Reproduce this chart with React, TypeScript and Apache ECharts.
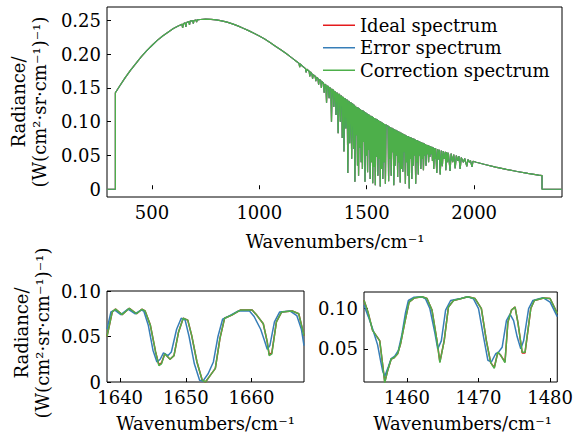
import React, { useEffect, useRef } from "react";
import * as echarts from "echarts";

// ---------------- data ----------------
const seriesNames = ["Ideal spectrum", "Error spectrum", "Correction spectrum"];
const seriesColors = ["#e41a1c", "#377eb8", "#4daf4a"];

// full-range spectrum (the three spectra coincide at this scale)
const fullSpectrum: number[][] = [
  [291, 0], [330, 0], [330, 0.143], [350, 0.153], [375, 0.165], [400, 0.176], [425, 0.186], [450, 0.196],
  [475, 0.205], [500, 0.213], [525, 0.2205], [550, 0.227], [575, 0.2325], [600, 0.238], [620, 0.2415],
  [640, 0.2445], [643, 0.239], [646, 0.245], [655, 0.2465], [658, 0.2405], [661, 0.247], [672, 0.2485],
  [675, 0.2435], [678, 0.249], [690, 0.2498], [693, 0.2455], [696, 0.25], [705, 0.2508], [708, 0.2475],
  [711, 0.251], [725, 0.2515], [750, 0.252], [775, 0.2518], [800, 0.251], [825, 0.2495], [850, 0.2475],
  [875, 0.245], [900, 0.242], [925, 0.2385], [950, 0.235], [975, 0.231], [1000, 0.227], [1025, 0.2225],
  [1050, 0.2175], [1075, 0.212], [1100, 0.2065], [1125, 0.201], [1150, 0.195], [1175, 0.189],
  [1185, 0.1865], [1188, 0.181], [1191, 0.1858], [1200, 0.1825], [1215, 0.1787], [1218, 0.173],
  [1221, 0.1778], [1232, 0.1748], [1235, 0.167], [1238, 0.174],
  [1245, 0.171], [1248, 0.164], [1251, 0.1695],
  [1260, 0.1675], [1263, 0.16], [1266, 0.166],
  [1273, 0.164], [1276, 0.155], [1279, 0.1625],
  [1286, 0.161], [1289, 0.15], [1292, 0.1595],
  [1299, 0.157], [1302, 0.143], [1305, 0.1555],
  [1310, 0.1545], [1313, 0.128], [1316, 0.153],
  [1322, 0.152], [1325, 0.135], [1328, 0.1505],
  [1333, 0.149], [1336, 0.1], [1339, 0.148],
  [1344, 0.147], [1347, 0.122], [1350, 0.1455],
  [1354, 0.144], [1357, 0.11], [1360, 0.143],
  [1364, 0.142], [1367, 0.083], [1370, 0.141],
  [1374, 0.14], [1377, 0.1], [1380, 0.1385],
  [1384, 0.1375], [1386, 0.076], [1389, 0.1365],
  [1392, 0.1355], [1394, 0.056], [1397, 0.1345],
  [1400, 0.134], [1403, 0.09], [1406, 0.1325],
  [1409, 0.132], [1412, 0.024], [1415, 0.1305],
  [1418, 0.13], [1421, 0.068], [1424, 0.1285],
  [1427, 0.128], [1430, 0.045], [1433, 0.1265],
  [1436, 0.126], [1439, 0.06], [1442, 0.125],
  [1445, 0.011], [1448, 0.1235], [1451, 0.08],
  [1454, 0.122], [1457, 0.035], [1460, 0.121],
  [1462, 0.02], [1465, 0.12], [1468, 0.062],
  [1471, 0.1185], [1474, 0.04], [1477, 0.1175],
  [1480, 0.03], [1483, 0.1165], [1486, 0.07],
  [1489, 0.115], [1492, 0.011], [1495, 0.114],
  [1498, 0.05], [1501, 0.1125], [1504, 0.025],
  [1507, 0.1115], [1510, 0.058], [1513, 0.1105],
  [1516, 0.015], [1519, 0.109], [1522, 0.04],
  [1525, 0.108], [1528, 0.009], [1531, 0.107],
  [1534, 0.033], [1537, 0.1055], [1540, 0.006],
  [1543, 0.1045], [1546, 0.048], [1549, 0.1035],
  [1552, 0.02], [1555, 0.1025], [1558, 0.045],
  [1561, 0.101], [1563, 0.004], [1566, 0.1],
  [1569, 0.03], [1572, 0.099], [1575, 0.015],
  [1578, 0.098], [1581, 0.04], [1584, 0.0965],
  [1587, 0.008], [1590, 0.095], [1599, 0.0935],
  [1602, 0.012], [1605, 0.093], [1608, 0.045],
  [1611, 0.092], [1614, 0.02], [1617, 0.091],
  [1620, 0.055], [1623, 0.09], [1626, 0.006],
  [1629, 0.089], [1632, 0.035], [1635, 0.088],
  [1638, 0.05], [1641, 0.087], [1644, 0.018],
  [1647, 0.086], [1650, 0.04], [1653, 0.085],
  [1656, 0.01], [1659, 0.084], [1662, 0.03],
  [1665, 0.083], [1668, 0.026], [1671, 0.082],
  [1674, 0.055], [1677, 0.081], [1680, 0.008],
  [1683, 0.08], [1686, 0.04], [1689, 0.079],
  [1692, 0.02], [1695, 0.0785], [1698, 0.001],
  [1701, 0.0775], [1704, 0.045], [1707, 0.0765],
  [1710, 0.015], [1713, 0.0755], [1716, 0.035],
  [1719, 0.075], [1722, 0.05], [1725, 0.074],
  [1728, 0.008], [1731, 0.073], [1734, 0.04],
  [1737, 0.0725], [1740, 0.022], [1743, 0.0715],
  [1746, 0.05], [1749, 0.0705], [1752, 0.03],
  [1755, 0.0695], [1758, 0.045], [1761, 0.069],
  [1764, 0.028], [1767, 0.068], [1770, 0.05],
  [1773, 0.067], [1776, 0.035], [1779, 0.066],
  [1782, 0.052], [1785, 0.0655], [1788, 0.04],
  [1791, 0.0645], [1794, 0.048], [1797, 0.0635],
  [1800, 0.052], [1803, 0.063], [1806, 0.042],
  [1809, 0.062], [1812, 0.03], [1815, 0.061],
  [1818, 0.045], [1821, 0.0605], [1826, 0.024],
  [1830, 0.0595], [1834, 0.044], [1838, 0.0585],
  [1842, 0.022], [1847, 0.0575], [1852, 0.034],
  [1856, 0.0565], [1861, 0.045], [1866, 0.0555],
  [1868, 0.028], [1872, 0.055], [1876, 0.04],
  [1880, 0.054], [1888, 0.027], [1893, 0.0528],
  [1900, 0.04], [1905, 0.0515], [1912, 0.031],
  [1917, 0.05], [1924, 0.042], [1929, 0.049],
  [1935, 0.03], [1940, 0.047], [1950, 0.04],
  [1956, 0.0455], [1966, 0.034], [1971, 0.044],
  [1978, 0.04], [1983, 0.0425], [1990, 0.033],
  [1995, 0.0415], [2010, 0.04], [2050, 0.0366], [2100, 0.0328], [2150, 0.0294],
  [2200, 0.0263], [2250, 0.0234], [2300, 0.0209], [2316, 0.0202], [2316, 0], [2409, 0],
];

// zoom 1638-1668 cm^-1
const zoomAIdeal: number[][] = [
  [1638, 0.05], [1638.8, 0.077], [1639.3, 0.08], [1640.3, 0.074], [1641.4, 0.081], [1642.5, 0.075],
  [1643.3, 0.08], [1643.8, 0.078], [1644.6, 0.0625], [1645.4, 0.033], [1645.9, 0.019], [1646.3, 0.021],
  [1646.8, 0.031], [1647.6, 0.025], [1648.2, 0.029], [1648.9, 0.055], [1649.6, 0.07], [1650.3, 0.068],
  [1650.9, 0.051], [1651.7, 0.022], [1652.5, 0.002], [1653.0, 0.0], [1653.7, 0.007], [1654.5, 0.015],
  [1655.2, 0.048], [1655.9, 0.07], [1657.0, 0.0735], [1658.3, 0.079], [1660.1, 0.079], [1660.8, 0.0735],
  [1661.8, 0.064], [1662.4, 0.044], [1662.7, 0.03], [1663.1, 0.032], [1663.8, 0.066], [1664.6, 0.077],
  [1666.2, 0.078], [1667.2, 0.075], [1668, 0.051],
];
const zoomAError: number[][] = [
  [1638, 0.058], [1638.6, 0.077], [1639.2, 0.079], [1640.1, 0.074], [1641.2, 0.08], [1642.3, 0.075],
  [1643.2, 0.079], [1643.6, 0.078], [1644.3, 0.062], [1645.0, 0.035], [1645.6, 0.022], [1646.1, 0.025],
  [1646.6, 0.032], [1647.3, 0.029], [1647.8, 0.033], [1648.6, 0.058], [1649.3, 0.07], [1649.9, 0.068],
  [1650.5, 0.05], [1651.3, 0.02], [1652.1, 0.002], [1652.6, 0.001], [1653.4, 0.009], [1654.2, 0.022],
  [1654.9, 0.05], [1655.6, 0.069], [1656.7, 0.073], [1658.0, 0.078], [1659.7, 0.078], [1660.4, 0.072],
  [1661.4, 0.058], [1662.0, 0.045], [1662.4, 0.036], [1662.8, 0.04], [1663.5, 0.066], [1664.3, 0.077],
  [1665.9, 0.078], [1666.9, 0.073], [1667.6, 0.058], [1668, 0.04],
];
const zoomACorrection: number[][] = [
  [1638, 0.05], [1638.8, 0.077], [1639.3, 0.08], [1640.3, 0.074], [1641.4, 0.081], [1642.5, 0.075],
  [1643.3, 0.08], [1643.8, 0.078], [1644.6, 0.0625], [1645.4, 0.033], [1645.9, 0.018], [1646.3, 0.02],
  [1646.8, 0.031], [1647.6, 0.025], [1648.2, 0.029], [1648.9, 0.055], [1649.6, 0.07], [1650.3, 0.068],
  [1650.9, 0.051], [1651.7, 0.022], [1652.5, 0.002], [1653.0, 0.0], [1653.7, 0.007], [1654.5, 0.015],
  [1655.2, 0.048], [1655.9, 0.07], [1657.0, 0.0735], [1658.3, 0.079], [1660.1, 0.079], [1660.8, 0.0735],
  [1661.8, 0.064], [1662.4, 0.044], [1662.7, 0.029], [1663.1, 0.031], [1663.8, 0.066], [1664.6, 0.077],
  [1666.2, 0.078], [1667.2, 0.075], [1668, 0.051],
];

// zoom 1454-1481 cm^-1
const zoomBIdeal: number[][] = [
  [1454, 0.1104], [1454.55, 0.0958], [1455.2, 0.073], [1455.9, 0.064], [1456.2, 0.06], [1456.6, 0.031],
  [1456.9, 0.009], [1457.3, 0.023], [1457.8, 0.0375], [1458.2, 0.039], [1458.7, 0.044], [1459.1, 0.056],
  [1459.7, 0.083], [1460.3, 0.108], [1461.0, 0.113], [1462.1, 0.1146], [1462.8, 0.1125], [1463.5, 0.098],
  [1464.2, 0.06], [1464.6, 0.034], [1465.2, 0.06], [1465.8, 0.102], [1466.5, 0.11], [1467.6, 0.1125],
  [1468.5, 0.1146], [1469.5, 0.1125], [1470.4, 0.1], [1471.1, 0.06], [1471.7, 0.033], [1472.2, 0.027],
  [1472.7, 0.046], [1473.1, 0.042], [1473.7, 0.034], [1474.1, 0.083], [1474.6, 0.098], [1475.1, 0.102],
  [1475.5, 0.083], [1476.1, 0.045], [1476.5, 0.045], [1477.3, 0.1], [1477.8, 0.11], [1479.1, 0.113],
  [1480.0, 0.1125], [1481, 0.094],
];
const zoomBError: number[][] = [
  [1454, 0.104], [1454.6, 0.09], [1455.2, 0.075], [1455.9, 0.055], [1456.3, 0.036], [1456.6, 0.023],
  [1456.9, 0.016], [1457.4, 0.028], [1457.8, 0.038], [1458.3, 0.041], [1458.8, 0.048], [1459.3, 0.068],
  [1459.8, 0.095], [1460.2, 0.11], [1461.0, 0.114], [1462.1, 0.1146], [1462.6, 0.112], [1463.2, 0.1],
  [1463.9, 0.07], [1464.3, 0.05], [1464.8, 0.06], [1465.4, 0.098], [1466.1, 0.11], [1467.5, 0.1125],
  [1468.5, 0.1146], [1469.3, 0.112], [1470.0, 0.1], [1470.7, 0.065], [1471.3, 0.036], [1471.8, 0.034],
  [1472.4, 0.044], [1472.8, 0.046], [1473.3, 0.052], [1473.9, 0.085], [1474.4, 0.093], [1474.9, 0.085],
  [1475.4, 0.065], [1475.9, 0.05], [1476.3, 0.06], [1477.0, 0.1], [1477.6, 0.11], [1479.0, 0.1135],
  [1480.0, 0.108], [1481, 0.09],
];
const zoomBCorrection: number[][] = [
  [1454, 0.1104], [1454.55, 0.0958], [1455.2, 0.073], [1455.9, 0.064], [1456.2, 0.06], [1456.6, 0.031],
  [1456.9, 0.008], [1457.3, 0.023], [1457.8, 0.0375], [1458.2, 0.039], [1458.7, 0.044], [1459.1, 0.056],
  [1459.7, 0.083], [1460.3, 0.108], [1461.0, 0.113], [1462.1, 0.1146], [1462.8, 0.1125], [1463.5, 0.098],
  [1464.2, 0.06], [1464.6, 0.033], [1465.2, 0.06], [1465.8, 0.102], [1466.5, 0.11], [1467.6, 0.1125],
  [1468.5, 0.1146], [1469.5, 0.1125], [1470.4, 0.1], [1471.1, 0.06], [1471.7, 0.033], [1472.2, 0.026],
  [1472.7, 0.046], [1473.1, 0.042], [1473.7, 0.033], [1474.1, 0.083], [1474.6, 0.098], [1475.1, 0.102],
  [1475.5, 0.083], [1476.1, 0.046], [1476.5, 0.046], [1477.3, 0.1], [1477.8, 0.11], [1479.1, 0.113],
  [1480.0, 0.1125], [1481, 0.094],
];

// ticks
const topXTicks = [500, 1000, 1500, 2000];
const topYTicks = [0, 0.05, 0.1, 0.15, 0.2, 0.25];
const zoomAXTicks = [1640, 1650, 1660];
const zoomAYTicks = [0, 0.05, 0.1];
const zoomBXTicks = [1460, 1470, 1480];
const zoomBYTicks = [0.05, 0.1];

const xTitle = "Wavenumbers/cm\u207B\u00B9";
const yTitle1 = "Radiance/";
const yTitle2 = "(W(cm\u00B2\u00B7sr\u00B7cm\u207B\u00B9)\u207B\u00B9)";

const FONT_FAMILY = '"DejaVu Serif", serif';
const FONT_SIZE = 18;

function fmtY(v: number) {
  return v === 0 ? "0" : v.toFixed(2);
}

function makeAxis(gridIndex: number, min: number, max: number, ticks: number[], isY: boolean) {
  return {
    type: "value",
    gridIndex,
    min,
    max,
    splitLine: { show: false },
    axisLine: { show: false },
    axisTick: {
      show: true,
      inside: true,
      length: 4,
      customValues: ticks,
      lineStyle: { color: "#000", width: 1 },
    },
    axisLabel: {
      customValues: ticks,
      color: "#000",
      fontFamily: FONT_FAMILY,
      fontSize: FONT_SIZE,
      margin: 6,
      formatter: isY ? (v: number) => fmtY(v) : (v: number) => String(v),
    },
  };
}

function text(x: number, y: number, str: string, rotate: boolean) {
  return {
    type: "text",
    x,
    y,
    rotation: rotate ? Math.PI / 2 : 0,
    style: {
      text: str,
      fontFamily: FONT_FAMILY,
      fontSize: FONT_SIZE,
      fill: "#000",
      textAlign: "center",
      textVerticalAlign: "middle",
      align: "center",
      verticalAlign: "middle",
    },
  };
}

export default function App() {
  const ref = useRef<HTMLDivElement>(null);

  useEffect(() => {
    if (!ref.current) return;
    const chart = echarts.init(ref.current, undefined, { renderer: "svg" });

    const datasets = [
      [fullSpectrum, fullSpectrum, fullSpectrum],
      [zoomAIdeal, zoomAError, zoomACorrection],
      [zoomBIdeal, zoomBError, zoomBCorrection],
    ];
    const series: any[] = [];
    datasets.forEach((group, gi) => {
      group.forEach((data, si) => {
        series.push({
          type: "line",
          name: seriesNames[si],
          xAxisIndex: gi,
          yAxisIndex: gi,
          data,
          showSymbol: false,
          symbol: "none",
          color: seriesColors[si],
          lineStyle: { color: seriesColors[si], width: gi === 0 ? 1.2 : 1.5 },
          emphasis: { disabled: true },
          silent: true,
        });
      });
    });

    const gridBase = { show: true, borderColor: "#000", borderWidth: 1, backgroundColor: "transparent" };

    chart.setOption({
      animation: false,
      backgroundColor: "#fff",
      grid: [
        { ...gridBase, left: 107, top: 7, width: 455, height: 190 },
        { ...gridBase, left: 107, top: 291, width: 197, height: 91 },
        { ...gridBase, left: 364, top: 292, width: 197, height: 90 },
      ],
      xAxis: [
        makeAxis(0, 291, 2409, topXTicks, false),
        makeAxis(1, 1638, 1668, zoomAXTicks, false),
        makeAxis(2, 1454, 1481, zoomBXTicks, false),
      ],
      yAxis: [
        makeAxis(0, -0.0115, 0.27, topYTicks, true),
        makeAxis(1, 0, 0.1, zoomAYTicks, true),
        makeAxis(2, 0.009, 0.1205, zoomBYTicks, true),
      ],
      legend: {
        data: seriesNames,
        orient: "vertical",
        left: 323,
        top: 14,
        padding: 0,
        itemWidth: 32,
        itemHeight: 1.5,
        itemGap: 0,
        icon: "rect",
        selectedMode: false,
        textStyle: { fontFamily: FONT_FAMILY, fontSize: FONT_SIZE, color: "#000", lineHeight: 22.5 },
      },
      graphic: [
        text(18, 102, yTitle1, true),
        text(39, 102, yTitle2, true),
        text(335, 241, xTitle, false),
        text(21, 333, yTitle1, true),
        text(42, 333, yTitle2, true),
        text(205.5, 423, xTitle, false),
        text(462.5, 423, xTitle, false),
      ],
      series,
    });

    return () => chart.dispose();
  }, []);

  return (
    <div
      ref={ref}
      style={{ position: "fixed", left: 0, top: 0, width: 576, height: 438, background: "#fff" }}
    />
  );
}
